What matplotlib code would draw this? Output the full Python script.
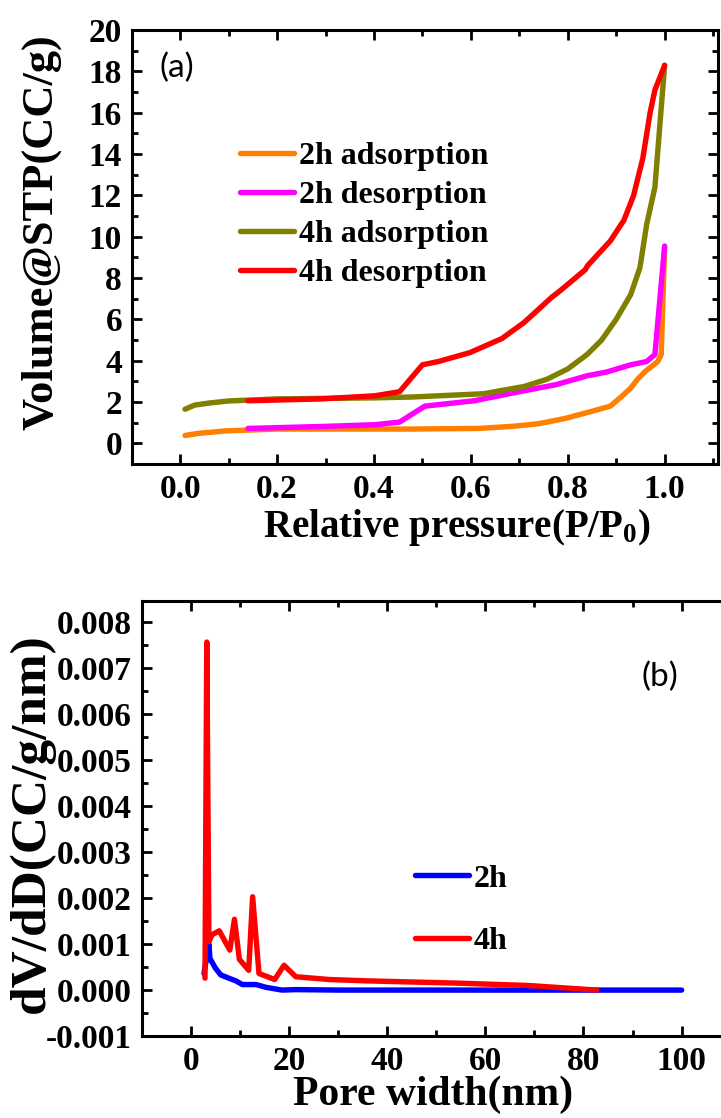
import matplotlib
matplotlib.use("Agg")
import matplotlib.pyplot as plt
from matplotlib.ticker import MultipleLocator

# (a) N2 isotherms: relative pressure vs adsorbed volume (cc/g)
p_2h_ads = [0.01, 0.037, 0.093, 0.196, 0.477, 0.617, 0.69, 0.74, 0.794, 0.85,
            0.888, 0.91, 0.93, 0.944, 0.961, 0.986, 0.993, 1.0]
v_2h_ads = [0.38, 0.48, 0.6, 0.69, 0.69, 0.72, 0.83, 0.95, 1.2, 1.55,
            1.8, 2.24, 2.67, 3.1, 3.5, 3.96, 4.3, 9.5]

p_2h_des = [1.0, 0.98, 0.963, 0.93, 0.88, 0.84, 0.776, 0.70, 0.607, 0.505,
            0.453, 0.402, 0.3, 0.14]
v_2h_des = [9.55, 4.3, 3.96, 3.8, 3.45, 3.27, 2.84, 2.5, 2.06, 1.8,
            1.03, 0.9, 0.82, 0.72]

p_4h_ads = [0.01, 0.03, 0.06, 0.1, 0.2, 0.4, 0.477, 0.626, 0.71, 0.757, 0.8,
            0.84, 0.87, 0.9, 0.93, 0.949, 0.963, 0.98, 1.0]
v_4h_ads = [1.65, 1.85, 1.95, 2.05, 2.15, 2.2, 2.24, 2.4, 2.75, 3.1, 3.6,
            4.3, 5.0, 6.0, 7.2, 8.5, 10.6, 12.4, 18.3]

p_4h_des = [1.0, 0.98, 0.97, 0.955, 0.936, 0.916, 0.888, 0.841, 0.836, 0.785,
            0.766, 0.71, 0.664, 0.598, 0.533, 0.5, 0.453, 0.402, 0.29, 0.14]
v_4h_des = [18.3, 17.1, 16.0, 13.8, 12.0, 10.8, 9.8, 8.6, 8.4, 7.4,
            7.05, 5.85, 5.07, 4.39, 3.96, 3.8, 2.5, 2.3, 2.15, 2.06]

# (b) pore size distribution: pore width (nm) vs dV/dD
d_2h = [2.7, 3.7, 3.9, 5.0, 6.1, 8.2, 9.2, 10.5, 13.3, 15.3, 18.6, 21.4, 30, 60, 100]
dv_2h = [0.00036, 0.0010, 0.00069, 0.00048, 0.00033, 0.00024, 0.0002, 0.00012,
         0.00012, 0.00006, 0.0, 0.00001, 0.0, 0.0, 0.0]

d_4h = [2.9, 3.26, 3.7, 4.3, 5.8, 7.95, 8.9, 9.9, 11.8, 12.6, 13.9, 17.1,
        19.0, 21.4, 28.2, 36, 54.7, 68.7, 82.7]
dv_4h = [0.00026, 0.00757, 0.00105, 0.0012, 0.00129, 0.00087, 0.00154, 0.00067,
         0.00043, 0.00203, 0.00036, 0.00023, 0.00054, 0.00029, 0.00023, 0.0002,
         0.00015, 0.0001, 0.0]

plt.rcParams['font.family'] = ['Liberation Serif', 'DejaVu Serif']
plt.rcParams['font.weight'] = 'bold'
plt.rcParams['mathtext.fontset'] = 'custom'
plt.rcParams['mathtext.rm'] = 'Liberation Serif:bold'
plt.rcParams['mathtext.it'] = 'Liberation Serif:bold'
plt.rcParams['mathtext.bf'] = 'Liberation Serif:bold'

LW = 3.9
TICK_FS = 24
LEG_FS = 23


def style_axes(ax):
    for s in ax.spines.values():
        s.set_linewidth(2.2)
    ax.tick_params(which='both', direction='in', width=2, labelsize=TICK_FS,
                   top=True, right=True, pad=7)
    ax.tick_params(which='major', length=7)
    ax.tick_params(which='minor', length=4)


def draw(ax, x, y, color, label):
    ax.plot(x, y, color=color, lw=LW, label=label,
            solid_capstyle='round', solid_joinstyle='round')


fig = plt.figure(figsize=(7.21, 11.18), dpi=100)

# ---- panel (a)
ax1 = fig.add_axes([0.1827, 0.585, 0.813, 0.388])
draw(ax1, p_2h_ads, v_2h_ads, '#FF8000', '2h adsorption')
draw(ax1, p_2h_des, v_2h_des, '#FF00FF', '2h desorption')
draw(ax1, p_4h_ads, v_4h_ads, '#808000', '4h adsorption')
draw(ax1, p_4h_des, v_4h_des, '#FF0000', '4h desorption')
ax1.set_xlim(-0.1, 1.11)
ax1.set_ylim(-1, 20)
ax1.xaxis.set_minor_locator(MultipleLocator(0.1))
ax1.yaxis.set_minor_locator(MultipleLocator(1))
ax1.set_yticks([0, 2, 4, 6, 8, 10, 12, 14, 16, 18, 20])
ax1.set_xticks([0.0, 0.2, 0.4, 0.6, 0.8, 1.0])
ax1.set_xticklabels(['0.0', '0.2', '0.4', '0.6', '0.8', '1.0'])
style_axes(ax1)
ax1.set_xlabel('Relative pressure(P/P$_0$)', fontsize=28, fontweight='bold')
ax1.set_ylabel('Volume@STP(CC/g)', fontsize=32, fontweight='bold')
ax1.xaxis.set_label_coords(0.555, -0.1)
ax1.yaxis.set_label_coords(-0.12, 0.535)
ax1.text(0.077, 0.912, '(a)', transform=ax1.transAxes, fontsize=24,
         fontweight='normal', family='Lato', ha='center', va='center')
ax1.legend(loc='upper left', bbox_to_anchor=(0.185, 0.743), frameon=False,
           fontsize=LEG_FS, handlelength=1.7, handletextpad=0.15,
           labelspacing=0.3, borderpad=0, borderaxespad=0)

# ---- panel (b)
ax2 = fig.add_axes([0.1965, 0.0733, 0.817, 0.389])
draw(ax2, d_2h, dv_2h, '#0000FF', '2h')
draw(ax2, d_4h, dv_4h, '#FF0000', '4h')
ax2.set_xlim(-10, 110)
ax2.set_ylim(-0.001, 0.00846)
ax2.xaxis.set_minor_locator(MultipleLocator(10))
ax2.yaxis.set_minor_locator(MultipleLocator(0.0005))
ax2.set_yticks([-0.001, 0.0, 0.001, 0.002, 0.003, 0.004, 0.005, 0.006, 0.007, 0.008])
ax2.set_yticklabels(['-0.001', '0.000', '0.001', '0.002', '0.003', '0.004',
                     '0.005', '0.006', '0.007', '0.008'])
ax2.set_xticks([0, 20, 40, 60, 80, 100])
style_axes(ax2)
ax2.set_xlabel('Pore width(nm)', fontsize=30, fontweight='bold')
ax2.set_ylabel('dV/dD(CC/g/nm)', fontsize=37, fontweight='bold')
ax2.xaxis.set_label_coords(0.495, -0.09)
ax2.yaxis.set_label_coords(-0.147, 0.49)
ax2.text(0.88, 0.825, '(b)', transform=ax2.transAxes, fontsize=24,
         fontweight='normal', family='Lato', ha='center', va='center')
ax2.legend(loc='upper left', bbox_to_anchor=(0.464, 0.395), frameon=False,
           fontsize=LEG_FS, handlelength=1.7, handletextpad=0.15,
           labelspacing=1.04, borderpad=0, borderaxespad=0)

fig.savefig('out.png', dpi=100)
